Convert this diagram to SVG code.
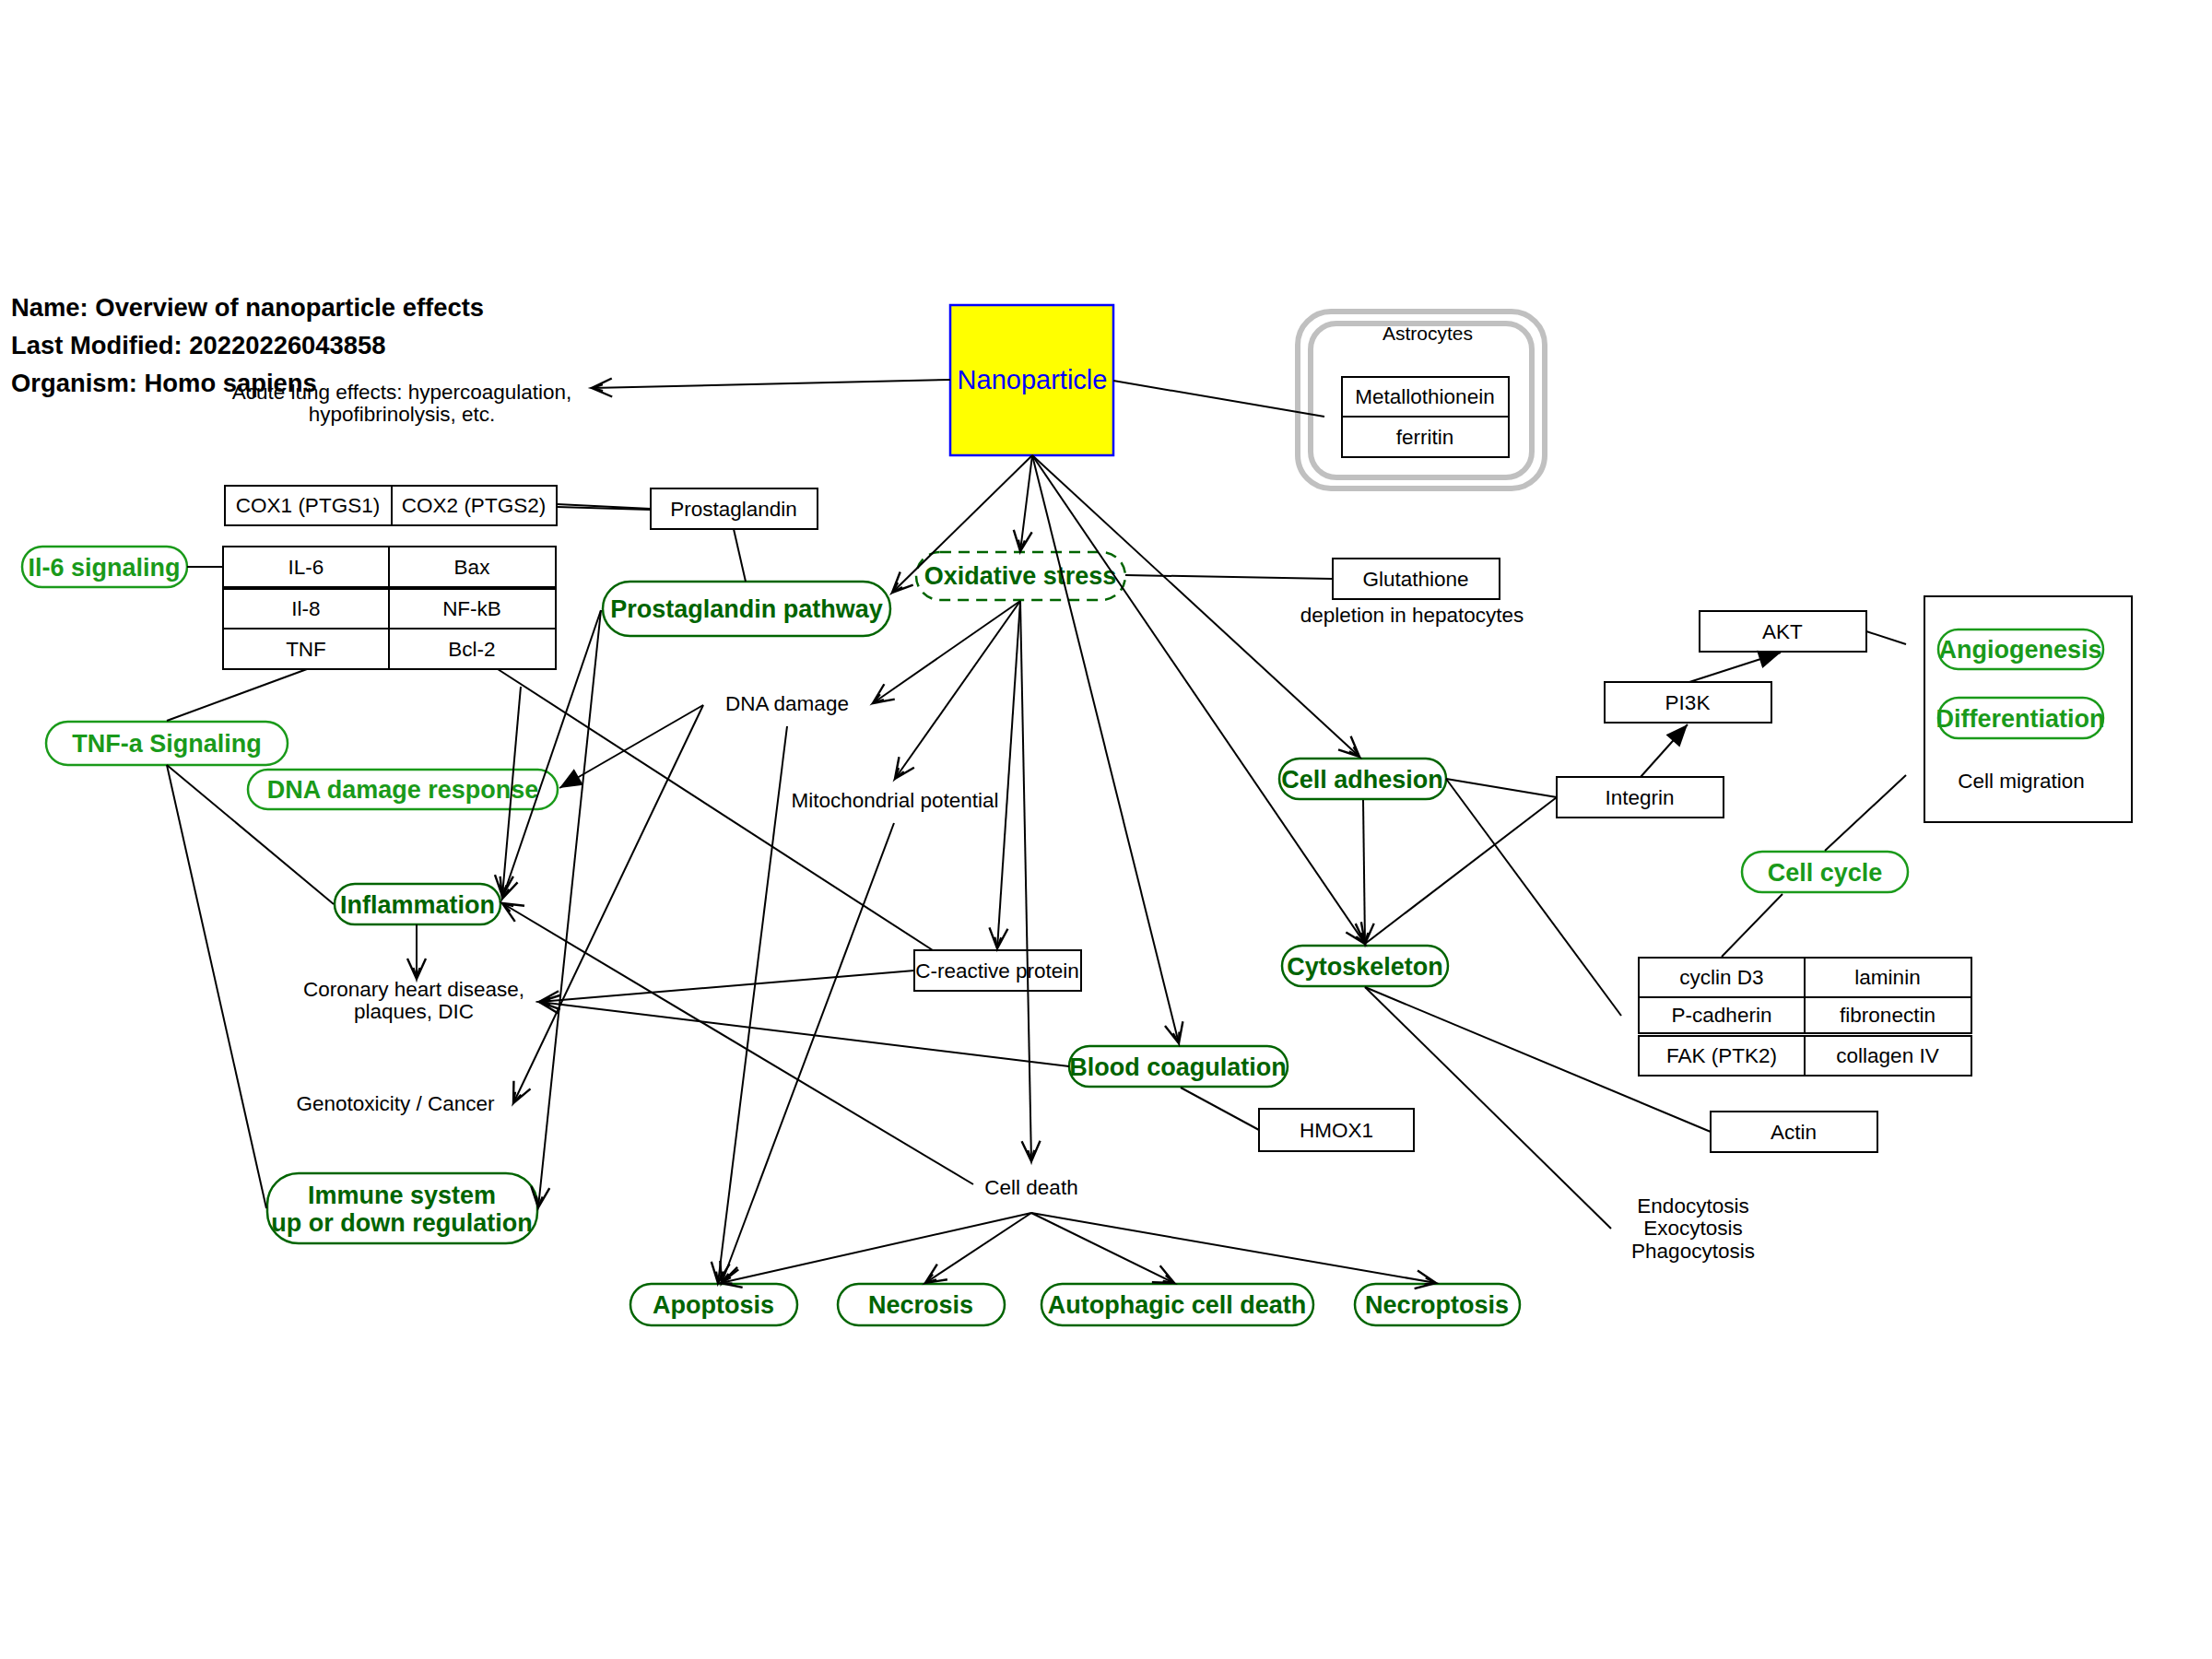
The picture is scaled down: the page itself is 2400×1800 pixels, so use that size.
<svg xmlns="http://www.w3.org/2000/svg" width="2400" height="1800" viewBox="0 0 2400 1800">
<style>
.bg{fill:#fff}
.box{fill:#fff;stroke:#000;stroke-width:2}
.pd{fill:#fff;stroke:#006400;stroke-width:2.5}
.pl{fill:#fff;stroke:#1a9a1a;stroke-width:2.5}
.t{font-family:"Liberation Sans",Arial,sans-serif;font-size:22.5px;text-anchor:middle;fill:#000}
.gd{font-family:"Liberation Sans",Arial,sans-serif;font-size:27px;font-weight:bold;text-anchor:middle;fill:#006400}
.gl{font-family:"Liberation Sans",Arial,sans-serif;font-size:27px;font-weight:bold;text-anchor:middle;fill:#1a9a1a}
.title{font-family:"Liberation Sans",Arial,sans-serif;font-size:27.4px;font-weight:bold;fill:#000}
.e{stroke:#000;stroke-width:2;fill:none}
.ea{stroke:#000;stroke-width:2;fill:none;marker-end:url(#v)}
.ef{stroke:#000;stroke-width:2;fill:none;marker-end:url(#f)}
.astro{fill:none;stroke:#c0c0c0;stroke-width:6}
</style>
<defs>
<marker id="v" markerUnits="userSpaceOnUse" markerWidth="30" markerHeight="30" refX="0" refY="0" orient="auto" overflow="visible">
<path d="M-22,-10 L0,0 L-22,10 M-12,-3.5 L0,0 L-12,3.5" fill="none" stroke="#000" stroke-width="2.4"/>
</marker>
<marker id="f" markerUnits="userSpaceOnUse" markerWidth="30" markerHeight="30" refX="0" refY="0" orient="auto" overflow="visible">
<path d="M0,0 L-24,-10 L-24,10 Z" fill="#000" stroke="none"/>
</marker>
</defs>
<rect class="bg" x="0" y="0" width="2400" height="1800"/>

<g id="title">
<text class="title" x="12" y="343">Name: Overview of nanoparticle effects</text>
<text class="title" x="12" y="384">Last Modified: 20220226043858</text>
<text class="title" x="12" y="425">Organism: Homo sapiens</text>
</g>

<g id="nodes">
<g id="nanoparticle"><rect x="1031" y="331" width="177" height="163" fill="#ffff00" stroke="#0000ff" stroke-width="2.5"/><text class="t" x="1120" y="422" style="font-size:29px;fill:#0000ff">Nanoparticle</text></g>
<g id="acute-lung"><text class="t" x="436" y="433">Acute lung effects: hypercoagulation,</text><text class="t" x="436" y="457">hypofibrinolysis, etc.</text></g>
<g id="astrocytes"><rect class="astro" x="1408" y="338" width="268" height="192" rx="36"/><rect class="astro" x="1422" y="351" width="240" height="167" rx="28"/><text class="t" x="1549" y="369" style="font-size:21px">Astrocytes</text></g>
<g id="metallothionein"><rect class="box" x="1456" y="409" width="181" height="43"/><text class="t" x="1546" y="438">Metallothionein</text></g>
<g id="ferritin"><rect class="box" x="1456" y="452" width="181" height="44"/><text class="t" x="1546" y="482">ferritin</text></g>
<g id="glutathione"><rect class="box" x="1446" y="606" width="181" height="44"/><text class="t" x="1536" y="636">Glutathione</text><text class="t" x="1532" y="675">depletion in hepatocytes</text></g>
<g id="oxidative-stress"><rect x="994" y="599" width="227" height="52" rx="26" fill="none" stroke="#006400" stroke-width="2.5" stroke-dasharray="12,8"/><text class="gd" x="1107" y="634">Oxidative stress</text></g>
<g id="prostaglandin"><rect class="box" x="706" y="530" width="181" height="44"/><text class="t" x="796" y="560">Prostaglandin</text></g>
<g id="prostaglandin-pathway"><rect class="pd" x="654" y="631" width="312" height="59" rx="29.5"/><text class="gd" x="810" y="670">Prostaglandin pathway</text></g>
<g id="cox1"><rect class="box" x="244" y="527" width="181" height="43"/><text class="t" x="334" y="556">COX1 (PTGS1)</text></g>
<g id="cox2"><rect class="box" x="425" y="527" width="179" height="43"/><text class="t" x="514" y="556">COX2 (PTGS2)</text></g>
<g id="il6"><rect class="box" x="242" y="593" width="180" height="44"/><text class="t" x="332" y="623">IL-6</text></g>
<g id="bax"><rect class="box" x="422" y="593" width="181" height="44"/><text class="t" x="512" y="623">Bax</text></g>
<g id="il8"><rect class="box" x="242" y="639" width="180" height="43"/><text class="t" x="332" y="668">Il-8</text></g>
<g id="nfkb"><rect class="box" x="422" y="639" width="181" height="43"/><text class="t" x="512" y="668">NF-kB</text></g>
<g id="tnf"><rect class="box" x="242" y="682" width="180" height="44"/><text class="t" x="332" y="712">TNF</text></g>
<g id="bcl2"><rect class="box" x="422" y="682" width="181" height="44"/><text class="t" x="512" y="712">Bcl-2</text></g>
<g id="il6-signaling"><rect class="pl" x="24" y="593" width="179" height="44" rx="22"/><text class="gl" x="113" y="625">Il-6 signaling</text></g>
<g id="tnfa-signaling"><rect class="pl" x="50" y="783" width="262" height="47" rx="23.5"/><text class="gl" x="181" y="816">TNF-a Signaling</text></g>
<g id="dna-damage-response"><rect class="pl" x="269" y="835" width="336" height="43" rx="21.5"/><text class="gl" x="437" y="866">DNA damage response</text></g>
<g id="inflammation"><rect class="pd" x="363" y="959" width="180" height="44" rx="22"/><text class="gd" x="453" y="991">Inflammation</text></g>
<g id="coronary"><text class="t" x="449" y="1081">Coronary heart disease,</text><text class="t" x="449" y="1105">plaques, DIC</text></g>
<g id="genotoxicity"><text class="t" x="429" y="1205">Genotoxicity / Cancer</text></g>
<g id="immune"><rect class="pd" x="290" y="1273" width="293" height="76" rx="34"/><text class="gd" x="436" y="1306">Immune system</text><text class="gd" x="436" y="1336">up or down regulation</text></g>
<g id="dna-damage"><text class="t" x="854" y="771">DNA damage</text></g>
<g id="mito"><text class="t" x="971" y="876">Mitochondrial potential</text></g>
<g id="crp"><rect class="box" x="992" y="1031" width="181" height="44"/><text class="t" x="1082" y="1061">C-reactive protein</text></g>
<g id="blood-coagulation"><rect class="pd" x="1160" y="1135" width="237" height="44" rx="22"/><text class="gd" x="1278" y="1167">Blood coagulation</text></g>
<g id="hmox1"><rect class="box" x="1366" y="1203" width="168" height="46"/><text class="t" x="1450" y="1234">HMOX1</text></g>
<g id="cell-death"><text class="t" x="1119" y="1296">Cell death</text></g>
<g id="apoptosis"><rect class="pd" x="684" y="1393" width="181" height="45" rx="22.5"/><text class="gd" x="774" y="1425">Apoptosis</text></g>
<g id="necrosis"><rect class="pd" x="909" y="1393" width="181" height="45" rx="22.5"/><text class="gd" x="999" y="1425">Necrosis</text></g>
<g id="autophagic"><rect class="pd" x="1130" y="1393" width="295" height="45" rx="22.5"/><text class="gd" x="1277" y="1425">Autophagic cell death</text></g>
<g id="necroptosis"><rect class="pd" x="1470" y="1393" width="179" height="45" rx="22.5"/><text class="gd" x="1559" y="1425">Necroptosis</text></g>
<g id="cell-adhesion"><rect class="pd" x="1388" y="823" width="181" height="44" rx="22"/><text class="gd" x="1478" y="855">Cell adhesion</text></g>
<g id="cytoskeleton"><rect class="pd" x="1391" y="1026" width="180" height="44" rx="22"/><text class="gd" x="1481" y="1058">Cytoskeleton</text></g>
<g id="integrin"><rect class="box" x="1689" y="843" width="181" height="44"/><text class="t" x="1779" y="873">Integrin</text></g>
<g id="pi3k"><rect class="box" x="1741" y="740" width="181" height="44"/><text class="t" x="1831" y="770">PI3K</text></g>
<g id="akt"><rect class="box" x="1844" y="663" width="181" height="44"/><text class="t" x="1934" y="693">AKT</text></g>
<g id="outcomes"><rect class="box" x="2088" y="647" width="225" height="245"/></g>
<g id="angiogenesis"><rect class="pl" x="2103" y="683" width="179" height="43" rx="21.5"/><text class="gl" x="2192" y="714">Angiogenesis</text></g>
<g id="differentiation"><rect class="pl" x="2103" y="757" width="179" height="44" rx="22"/><text class="gl" x="2192" y="789">Differentiation</text></g>
<g id="cell-migration"><text class="t" x="2193" y="855">Cell migration</text></g>
<g id="cell-cycle"><rect class="pl" x="1890" y="924" width="180" height="44" rx="22"/><text class="gl" x="1980" y="956">Cell cycle</text></g>
<g id="cyclin-d3"><rect class="box" x="1778" y="1039" width="180" height="43"/><text class="t" x="1868" y="1068">cyclin D3</text></g>
<g id="laminin"><rect class="box" x="1958" y="1039" width="181" height="43"/><text class="t" x="2048" y="1068">laminin</text></g>
<g id="p-cadherin"><rect class="box" x="1778" y="1082" width="180" height="39"/><text class="t" x="1868" y="1109">P-cadherin</text></g>
<g id="fibronectin"><rect class="box" x="1958" y="1082" width="181" height="39"/><text class="t" x="2048" y="1109">fibronectin</text></g>
<g id="fak"><rect class="box" x="1778" y="1124" width="180" height="43"/><text class="t" x="1868" y="1153">FAK (PTK2)</text></g>
<g id="collagen"><rect class="box" x="1958" y="1124" width="181" height="43"/><text class="t" x="2048" y="1153">collagen IV</text></g>
<g id="actin"><rect class="box" x="1856" y="1206" width="181" height="44"/><text class="t" x="1946" y="1236">Actin</text></g>
<g id="endocytosis"><text class="t" x="1837" y="1316">Endocytosis</text><text class="t" x="1837" y="1340">Exocytosis</text><text class="t" x="1837" y="1365">Phagocytosis</text></g>
</g>

<g id="connectors">
<line class="ea" x1="1031" y1="412" x2="642" y2="421"/>
<line class="e" x1="1208" y1="413" x2="1437" y2="452"/>
<line class="ea" x1="1120" y1="494" x2="1107" y2="598"/>
<line class="ea" x1="1120" y1="494" x2="968" y2="643"/>
<line class="ea" x1="1120" y1="494" x2="1475" y2="821"/>
<line class="ea" x1="1120" y1="494" x2="1481" y2="1024"/>
<line class="ea" x1="1120" y1="494" x2="1279" y2="1132"/>
<line class="e" x1="1221" y1="624" x2="1446" y2="628"/>
<line class="ea" x1="1107" y1="652" x2="947" y2="763"/>
<line class="ea" x1="1107" y1="652" x2="971" y2="845"/>
<line class="ea" x1="1107" y1="652" x2="1082" y2="1029"/>
<line class="ea" x1="1107" y1="652" x2="1119" y2="1260"/>
<line class="e" x1="604" y1="547" x2="706" y2="552"/>
<line class="e" x1="604" y1="550" x2="706" y2="553"/>
<line class="e" x1="796" y1="574" x2="809" y2="631"/>
<line class="e" x1="203" y1="615" x2="242" y2="615"/>
<line class="e" x1="333" y1="726" x2="181" y2="782"/>
<line class="e" x1="540" y1="726" x2="1012" y2="1031"/>
<line class="ea" x1="565" y1="745" x2="545" y2="972"/>
<line class="ea" x1="652" y1="662" x2="545" y2="975"/>
<line class="ea" x1="652" y1="662" x2="584" y2="1310"/>
<line class="e" x1="181" y1="830" x2="362" y2="981"/>
<line class="e" x1="181" y1="830" x2="289" y2="1311"/>
<line class="ea" x1="452" y1="1003" x2="452" y2="1062"/>
<line class="ea" x1="992" y1="1053" x2="585" y2="1087"/>
<line class="ea" x1="1160" y1="1157" x2="585" y2="1087"/>
<line class="e" x1="1281" y1="1180" x2="1366" y2="1226"/>
<line class="ef" x1="763" y1="765" x2="607" y2="855"/>
<line class="ea" x1="763" y1="765" x2="557" y2="1197"/>
<line class="ea" x1="854" y1="788" x2="779" y2="1392"/>
<line class="ea" x1="970" y1="893" x2="783" y2="1392"/>
<line class="ea" x1="1056" y1="1285" x2="545" y2="980"/>
<line class="ea" x1="1119" y1="1316" x2="782" y2="1392"/>
<line class="ea" x1="1119" y1="1316" x2="1004" y2="1392"/>
<line class="ea" x1="1119" y1="1316" x2="1274" y2="1392"/>
<line class="ea" x1="1119" y1="1316" x2="1558" y2="1392"/>
<line class="e" x1="1569" y1="845" x2="1689" y2="865"/>
<line class="e" x1="1689" y1="865" x2="1481" y2="1024"/>
<line class="ea" x1="1479" y1="868" x2="1481" y2="1024"/>
<line class="e" x1="1569" y1="845" x2="1759" y2="1102"/>
<line class="ef" x1="1780" y1="843" x2="1831" y2="786"/>
<line class="ef" x1="1833" y1="740" x2="1932" y2="708"/>
<line class="e" x1="2025" y1="685" x2="2068" y2="699"/>
<line class="e" x1="2068" y1="841" x2="1980" y2="923"/>
<line class="e" x1="1934" y1="970" x2="1868" y2="1038"/>
<line class="e" x1="1481" y1="1071" x2="1856" y2="1228"/>
<line class="e" x1="1481" y1="1071" x2="1748" y2="1333"/>
</g>
</svg>
